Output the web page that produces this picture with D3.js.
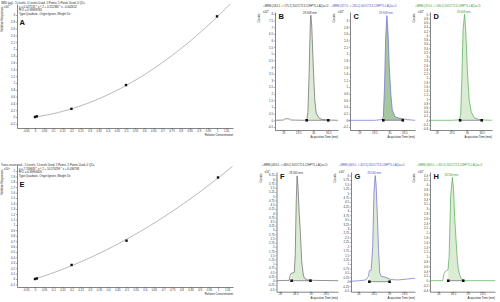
<!DOCTYPE html>
<html>
<head>
<meta charset="utf-8">
<script src="https://cdn.jsdelivr.net/npm/d3@7"></script>
<style>
  body { margin: 0; background: #fff; }
  svg { display: block; font-family: "Liberation Sans", Arial, sans-serif; }
</style>
</head>
<body>
<svg id="chart" width="500" height="302"></svg>
<script>
// ---- calibration data (responses in x10^-1) ----
const calConc = [0, 0.01, 0.2, 0.5, 1];
const respA = [0.0, 0.02, 0.24, 0.94, 2.96];
const respE = [0.0, 0.01, 0.26, 0.71, 1.88];
const fitA = [2.175, 0.765, 0.0];   // a, b, c of the quadratic fit
const fitE = [0.8, 1.07, 0.0];

const calXTicks = [-0.05, 0, 0.05, 0.1, 0.15, 0.2, 0.25, 0.3, 0.35, 0.4, 0.45, 0.5,
  0.55, 0.6, 0.65, 0.7, 0.75, 0.8, 0.85, 0.9, 0.95, 1, 1.05];
const calYTicksA = [-0.2, 0, 0.2, 0.4, 0.6, 0.8, 1, 1.2, 1.4, 1.6, 1.8, 2, 2.2, 2.4, 2.6, 2.8, 3];
const calYTicksE = [-0.1, 0, 0.1, 0.2, 0.3, 0.4, 0.5, 0.6, 0.7, 0.8, 0.9, 1, 1.1, 1.2, 1.3,
  1.4, 1.5, 1.6, 1.7, 1.8, 1.9, 2];

const titleA = '3MD (µg) - 5 Levels, 5 Levels Used, 5 Points, 5 Points Used, 0 QCs';
const eqA = ['y = 0.027535 * x ^ 2 + 0.151384 * x - 0.002652', 'R^2 = 0.99998763',
  'Type:Quadratic, Origin:Ignore, Weight:1/x'];
const titleE = 'Trans-resveratrol - 5 Levels, 5 Levels Used, 5 Points, 5 Points Used, 0 QCs';
const eqE = ['y = 7.709683 * x ^ 2 + 10.576299 * x + 0.036798', 'R^2 = 0.99994620',
  'Type:Quadratic, Origin:Ignore, Weight:1/x'];

// ---- chromatograms (counts in x10^2 top, x10^1 bottom) ----
const bTime = [28.76, 29.0, 29.05, 29.1, 29.2, 29.25, 29.7, 29.78, 29.82, 29.86, 29.9, 29.92, 29.95, 30.0, 30.05, 30.1, 30.2, 30.3, 30.5, 30.82];
const bCounts = [0.0, 0.02, 0.1, 0.12, 0.1, 0.02, 0.0, 0.02, 0.6, 3.5, 7.3, 7.9, 7.0, 4.0, 1.5, 0.5, 0.15, 0.06, 0.02, 0.0];
const cTime = [28.62, 29.5, 29.75, 29.8, 29.84, 29.88, 29.92, 29.96, 30.0, 30.05, 30.1, 30.2, 30.35, 30.45, 30.6, 30.86];
const cCounts = [0.0, 0.0, 0.02, 0.1, 1.0, 2.5, 3.15, 2.6, 1.6, 0.8, 0.3, 0.1, 0.06, 0.05, 0.02, 0.0];
const dTime = [28.74, 29.5, 29.76, 29.8, 29.84, 29.88, 29.93, 29.97, 30.02, 30.08, 30.15, 30.25, 30.4, 30.5, 30.84];
const dCounts = [0.0, 0.0, 0.02, 0.3, 2.0, 4.3, 5.0, 4.2, 2.4, 1.0, 0.4, 0.12, 0.04, 0.02, 0.0];
const fTime = [27.89, 28.3, 28.33, 28.36, 28.47, 28.5, 28.53, 28.56, 28.59, 28.63, 28.67, 28.71, 28.76, 28.8, 28.9, 29.1, 29.91];
const fCounts = [0.0, 0.02, 0.3, 0.42, 0.5, 1.5, 4.5, 6.2, 5.6, 4.0, 2.8, 1.2, 0.4, 0.15, 0.05, 0.02, 0.0];
const gTime = [27.7, 28.0, 28.25, 28.33, 28.36, 28.42, 28.47, 28.51, 28.55, 28.58, 28.62, 28.66, 28.7, 28.75, 28.9, 29.05, 29.3, 29.6, 29.85];
const gCounts = [0.02, 0.05, 0.1, 0.3, 0.6, 0.65, 2.0, 5.0, 6.0, 5.5, 3.8, 1.8, 0.5, 0.3, 0.25, 0.12, 0.1, 0.15, 0.2];
const hTime = [27.72, 28.15, 28.2, 28.25, 28.33, 28.37, 28.42, 28.48, 28.52, 28.56, 28.6, 28.64, 28.68, 28.74, 28.8, 28.9, 29.94];
const hCounts = [0.0, 0.0, 0.3, 0.4, 0.45, 1.0, 3.5, 4.3, 3.8, 2.6, 1.8, 1.0, 0.5, 0.2, 0.05, 0.0, 0.0];

const topTimeTicks = [29, 29.5, 30, 30.5];
const bottomTimeTicks = [28, 28.5, 29, 29.5];
const bYTicks = [-0.5, 0, 0.5, 1, 1.5, 2, 2.5, 3, 3.5, 4, 4.5, 5, 5.5, 6, 6.5, 7, 7.5, 8];
const cYTicks = [-0.2, 0, 0.2, 0.4, 0.6, 0.8, 1, 1.2, 1.4, 1.6, 1.8, 2, 2.2, 2.4, 2.6, 2.8, 3];
const dYTicks = [-0.4, -0.2, 0, 0.2, 0.4, 0.6, 0.8, 1, 1.2, 1.4, 1.6, 1.8, 2, 2.2, 2.4, 2.6, 2.8,
  3, 3.2, 3.4, 3.6, 3.8, 4, 4.2, 4.4, 4.6, 4.8, 5];
const fYTicks = [-0.5, -0.25, 0, 0.25, 0.5, 0.75, 1, 1.25, 1.5, 1.75, 2, 2.25, 2.5, 2.75, 3,
  3.25, 3.5, 3.75, 4, 4.25, 4.5, 4.75, 5, 5.25, 5.5, 5.75, 6, 6.25];
const gYTicks = [-0.5, -0.25, 0, 0.25, 0.5, 0.75, 1, 1.25, 1.5, 1.75, 2, 2.25, 2.5, 2.75, 3,
  3.25, 3.5, 3.75, 4, 4.25, 4.5, 4.75, 5, 5.25, 5.5, 5.75, 6];
const hYTicks = [-0.4, -0.2, 0, 0.2, 0.4, 0.6, 0.8, 1, 1.2, 1.4, 1.6, 1.8, 2, 2.2, 2.4, 2.6, 2.8,
  3, 3.2, 3.4, 3.6, 3.8, 4, 4.2, 4.4];

const chromTitles = [
  '+MRM (343.1 -> 175.2) 30OCT13-12HPT5-LAQas.D',
  '+MRM (327.0 -> 245.0) 30OCT13-12HPT5-LAQas.D',
  '+MRM (313.0 -> 246.0) 30OCT13-12HPT5-LAQas.D',
  '+MRM (469.0 -> 469.0) 30OCT13-12HPT5-LAQas.D',
  '+MRM (469.0 -> 457.0) 30OCT13-12HPT5-LAQas.D',
  '+MRM (469.0 -> 301.0) 30OCT13-12HPT5-LAQas.D'
];
const peakLabels = ['29.908 min', '29.908 min', '29.908 min', '28.560 min', '28.560 min', '28.560 min'];
// integration start / end (time) for each peak
const peakStart = [29.78, 29.8, 29.78, 28.38, 28.36, 28.34];
const peakEnd = [30.5, 30.45, 30.5, 29.0, 29.02, 28.85];

const svg = d3.select('#chart');
const FONT = 2.8;
const fmt = d => String(+d.toFixed(3));

// build a scale from two reference positions, then clip it to the axis extent
function fitScale(v0, p0, v1, p1, pmin, pmax) {
  const s = d3.scaleLinear().domain([v0, v1]).range([p0, p1]);
  return s.domain([s.invert(pmin), s.invert(pmax)]).range([pmin, pmax]);
}

function styleAxis(sel) {
  sel.attr('font-size', FONT).attr('font-family', null);
  sel.select('.domain').attr('stroke', '#333').attr('stroke-width', 0.6);
  sel.selectAll('.tick line').attr('stroke', '#333').attr('stroke-width', 0.4);
  sel.selectAll('.tick text').attr('fill', '#333');
}

function txt(x, y, s, opts = {}) {
  return svg.append('text')
    .attr('x', x).attr('y', y)
    .attr('font-size', opts.size || FONT)
    .attr('font-weight', opts.weight || null)
    .attr('text-anchor', opts.anchor || 'start')
    .attr('fill', opts.color || '#222')
    .attr('transform', opts.rotate ? `rotate(-90,${x},${y})` : null)
    .text(s);
}

function drawCalibration(c) {
  const x = fitScale(0, c.zeroX, 1, c.oneX, c.left, c.right);
  const y = fitScale(0, c.zeroY, 1, c.zeroY - c.ppu, c.bottom, c.top);

  svg.append('g').attr('transform', `translate(0,${c.bottom})`)
    .call(d3.axisBottom(x).tickValues(calXTicks).tickFormat(fmt)
      .tickSize(1.2).tickSizeOuter(0).tickPadding(0.6))
    .call(styleAxis);
  svg.append('g').attr('transform', `translate(${c.left},0)`)
    .call(d3.axisLeft(y).tickValues(c.yTicks).tickFormat(fmt)
      .tickSize(1.2).tickSizeOuter(0).tickPadding(0.8))
    .call(styleAxis);

  const clipId = 'clip' + c.letter;
  svg.append('clipPath').attr('id', clipId).append('rect')
    .attr('x', c.left).attr('y', c.top).attr('width', c.right - c.left).attr('height', c.bottom - c.top);

  const [a, b, k] = c.fit;
  const curve = d3.range(0, 1.0801, 0.01).map(t => [t, a * t * t + b * t + k]);
  svg.append('path').datum(curve)
    .attr('clip-path', `url(#${clipId})`)
    .attr('d', d3.line().x(d => x(d[0])).y(d => y(d[1])))
    .attr('fill', 'none').attr('stroke', '#888').attr('stroke-width', 0.6);

  svg.append('g').selectAll('rect')
    .data(calConc.map((t, i) => [t, c.resp[i]]))
    .join('rect')
    .attr('x', d => x(d[0]) - 1.2).attr('y', d => y(d[1]) - 1.2)
    .attr('width', 2.4).attr('height', 2.4).attr('fill', '#111');

  txt(1, c.titleY, c.title);
  c.eq.forEach((s, i) => txt(19, c.eqY + i * c.eqStep, s));
  txt(4, c.eqY, 'x10', {});
  txt(8.4, c.eqY - 1.2, '-1', { size: 2 });
  txt(3.2, c.labelY, 'Relative Responses', { rotate: true, anchor: 'middle' });
  txt(c.left + 2.5, c.letterY, c.letter, { size: 7.5, weight: 'bold', color: '#111' });
  txt(c.right, c.bottom + 7.5, 'Relative Concentration', { anchor: 'end' });
}

function interp(ts, vs, t) {
  const i = d3.bisectLeft(ts, t);
  if (i <= 0) return vs[0];
  if (i >= ts.length) return vs[vs.length - 1];
  const f = (t - ts[i - 1]) / (ts[i] - ts[i - 1]);
  return vs[i - 1] + f * (vs[i] - vs[i - 1]);
}

function drawChrom(c, idx) {
  const x = fitScale(c.xRef[0], c.xRef[1], c.xRef[2], c.xRef[3], c.left, c.right);
  const y = fitScale(0, c.zeroY, 1, c.zeroY - c.ppu, c.bottom, c.top);

  svg.append('g').attr('transform', `translate(0,${c.bottom})`)
    .call(d3.axisBottom(x).tickValues(c.xTicks).tickFormat(fmt)
      .tickSize(1.2).tickSizeOuter(0).tickPadding(0.6))
    .call(styleAxis);
  svg.append('g').attr('transform', `translate(${c.left},0)`)
    .call(d3.axisLeft(y).tickValues(c.yTicks).tickFormat(fmt)
      .tickSize(1.2).tickSizeOuter(0).tickPadding(0.8))
    .call(styleAxis);

  const ts = c.time, vs = c.counts;
  const t0 = peakStart[idx], t1 = peakEnd[idx];
  const b0 = interp(ts, vs, t0) * 0 + 0, b1 = 0;
  const line = d3.line().x(d => x(d[0])).y(d => y(d[1]));

  // integrated area
  const inside = ts.map((t, i) => [t, vs[i]]).filter(d => d[0] > t0 && d[0] < t1);
  const poly = [[t0, b0], [t0, interp(ts, vs, t0)], ...inside, [t1, interp(ts, vs, t1)], [t1, b1]];
  svg.append('path').attr('d', line(poly) + 'Z').attr('fill', c.fill).attr('stroke', 'none');

  // trace
  svg.append('path').datum(ts.map((t, i) => [t, vs[i]]))
    .attr('d', line).attr('fill', 'none')
    .attr('stroke', c.color).attr('stroke-width', 0.7);

  // baseline + markers
  svg.append('path').attr('d', line([[t0, b0], [t1, b1]]))
    .attr('stroke', '#333').attr('stroke-width', 0.5);
  svg.append('g').selectAll('rect').data([[t0, b0], [t1, b1]]).join('rect')
    .attr('x', d => x(d[0]) - 1.3).attr('y', d => y(d[1]) - 1.3)
    .attr('width', 2.6).attr('height', 2.6).attr('fill', '#111');

  const iMax = d3.maxIndex(vs);
  txt(x(ts[iMax]) - 1, y(vs[iMax]) - 1.5, peakLabels[idx], { anchor: 'middle', color: c.textColor });

  txt(c.titleX, c.titleY, chromTitles[idx], { color: c.textColor });
  txt(c.left - 12, c.top + 0.5, 'x10', {});
  txt(c.left - 7.6, c.top - 0.7, c.exp, { size: 2 });
  txt(c.left - 15, c.top + 6, 'Counts', { rotate: true, anchor: 'middle' });
  txt(c.left + 3.5, c.top + 6.5, c.letter, { size: 7.5, weight: 'bold', color: '#111' });
  txt(c.right, c.bottom + 7.5, 'Acquisition Time (min)', { anchor: 'end' });
}

drawCalibration({
  letter: 'A', left: 17, right: 233, top: 4, bottom: 128,
  zeroX: 35, oneX: 217, zeroY: 117, ppu: 34,
  yTicks: calYTicksA, fit: fitA, resp: respA,
  title: titleA, titleY: 3.5, eq: eqA, eqY: 7.6, eqStep: 3.6, labelY: 19, letterY: 25
});
drawCalibration({
  letter: 'E', left: 17, right: 233, top: 165, bottom: 287,
  zeroX: 35, oneX: 218, zeroY: 279, ppu: 54,
  yTicks: calYTicksE, fit: fitE, resp: respE,
  title: titleE, titleY: 166, eq: eqE, eqY: 170, eqStep: 3.4, labelY: 182, letterY: 186.5
});

const gray = '#666', blue = '#6b6bd2', green = '#4fae4f';
const chromPanels = [
  { letter: 'B', time: bTime, counts: bCounts, left: 275, right: 338, top: 12, bottom: 130,
    xRef: [29, 283.3, 30.5, 328.3], zeroY: 120.3, ppu: 13.3, xTicks: topTimeTicks, yTicks: bYTicks,
    color: gray, textColor: '#333', fill: '#dcebd3', titleX: 263, titleY: 6.5, exp: '2' },
  { letter: 'C', time: cTime, counts: cCounts, left: 350, right: 415, top: 12, bottom: 130,
    xRef: [29, 359.3, 30.5, 404.3], zeroY: 120.3, ppu: 33.25, xTicks: topTimeTicks, yTicks: cYTicks,
    color: blue, textColor: '#5050c4', fill: '#a6c79f', titleX: 331, titleY: 6.5, exp: '2' },
  { letter: 'D', time: dTime, counts: dCounts, left: 430, right: 492, top: 12, bottom: 130,
    xRef: [29, 436.7, 30.5, 481.7], zeroY: 120.3, ppu: 21.2, xTicks: topTimeTicks, yTicks: dYTicks,
    color: green, textColor: '#3a9a3a', fill: '#dcebd3', titleX: 415, titleY: 6.5, exp: '2' },
  { letter: 'F', time: fTime, counts: fCounts, left: 276.5, right: 338, top: 172, bottom: 291.7,
    xRef: [28, 280, 29.5, 325.7], zeroY: 280.7, ppu: 16.9, xTicks: bottomTimeTicks, yTicks: fYTicks,
    color: gray, textColor: '#333', fill: '#dcebd3', titleX: 262, titleY: 166, exp: '1' },
  { letter: 'G', time: gTime, counts: gCounts, left: 351, right: 415, top: 172, bottom: 291.7,
    xRef: [28, 358.3, 29.5, 404.3], zeroY: 281.7, ppu: 17.7, xTicks: bottomTimeTicks, yTicks: gYTicks,
    color: blue, textColor: '#5050c4', fill: '#dcebd3', titleX: 339, titleY: 166, exp: '1' },
  { letter: 'H', time: hTime, counts: hCounts, left: 430, right: 495, top: 172, bottom: 291.7,
    xRef: [28, 438.3, 29.5, 482.3], zeroY: 280.7, ppu: 24, xTicks: bottomTimeTicks, yTicks: hYTicks,
    color: green, textColor: '#3a9a3a', fill: '#dcebd3', titleX: 417, titleY: 166, exp: '1' }
];
chromPanels.forEach((c, i) => drawChrom(c, i));
</script>
</body>
</html>
